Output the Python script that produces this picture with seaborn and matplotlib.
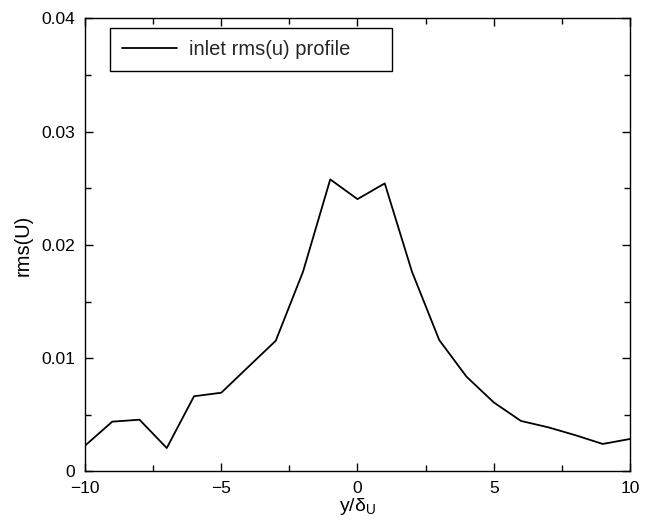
import matplotlib
matplotlib.use("Agg")
import matplotlib.pyplot as plt
import seaborn as sns
import pandas as pd
from matplotlib.ticker import MultipleLocator, FuncFormatter

y_pos = [-10, -9, -8, -7, -6, -5, -4, -3, -2, -1, 0, 1, 2, 3, 4, 5, 6, 7, 8, 9, 10]
rms_u = [0.00228, 0.0044, 0.00457, 0.00207, 0.00664, 0.00695, 0.00925, 0.01154,
         0.01763, 0.02578, 0.02404, 0.02543, 0.01763, 0.0116, 0.00837, 0.0061,
         0.00446, 0.0039, 0.0032, 0.00243, 0.00287]
series_label = "inlet rms(u) profile"

df = pd.DataFrame({"y": y_pos, "rms": rms_u})

sns.set_theme(style="white")
plt.rcParams['font.family'] = ['Liberation Sans', 'DejaVu Sans']
plt.rcParams['mathtext.fontset'] = 'custom'
plt.rcParams['mathtext.rm'] = 'Liberation Sans'
plt.rcParams['mathtext.it'] = 'Liberation Sans'

fig = plt.figure(figsize=(6.51, 5.23), dpi=100)
ax = fig.add_axes([0.1306, 0.0985, 0.8371, 0.8665])

sns.lineplot(data=df, x="y", y="rms", ax=ax, color="black", linewidth=1.3,
             label=series_label)

ax.set_xlim(-10, 10)
ax.set_ylim(0, 0.04)
ax.xaxis.set_major_locator(MultipleLocator(5))
ax.xaxis.set_minor_locator(MultipleLocator(2.5))
ax.yaxis.set_major_locator(MultipleLocator(0.01))
ax.yaxis.set_minor_locator(MultipleLocator(0.005))

def fmt_x(v, p):
    return f"{v:g}".replace("-", "\u2212")
def fmt_y(v, p):
    return "0" if v == 0 else f"{v:.2f}"
ax.xaxis.set_major_formatter(FuncFormatter(fmt_x))
ax.yaxis.set_major_formatter(FuncFormatter(fmt_y))

ax.tick_params(which="both", direction="in", top=True, right=True,
               bottom=True, left=True, colors="black", labelsize=12.5)
ax.tick_params(which="major", length=6, width=1.0, pad=5)
ax.tick_params(which="minor", length=4, width=1.0)
ax.tick_params(axis="x", which="major", pad=7)
ax.tick_params(axis="y", which="major", pad=7)
for s in ax.spines.values():
    s.set_color("black")
    s.set_linewidth(1.0)

ax.set_xlabel(r"y/$\delta_{\mathrm{U}}$", fontsize=14, color="black", labelpad=0)
ax.set_ylabel("rms(U)", fontsize=14.5, color="black", labelpad=6)

leg = ax.legend(loc="upper left", bbox_to_anchor=(0.0459, 0.9786, 0.5174, 0.0),
                mode="expand", frameon=True,
                fancybox=False, edgecolor="black", fontsize=14.5, handlelength=2.75,
                borderpad=0.6, handletextpad=0.55, borderaxespad=0)
leg.get_frame().set_linewidth(1.0)
leg.get_frame().set_alpha(1)

fig.savefig("out.png", dpi=100)
